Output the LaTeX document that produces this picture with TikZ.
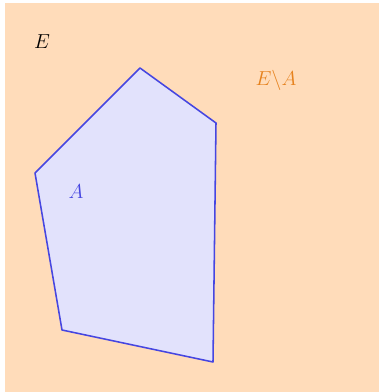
\documentclass[tikz,border=0pt]{standalone}
\usepackage{amsmath}
\usepackage{tikz}

\definecolor{peach}{RGB}{255,220,186}
\definecolor{lavender}{RGB}{226,226,252}
\definecolor{edgeblue}{RGB}{70,70,225}
\definecolor{labelorange}{RGB}{230,130,30}

\begin{document}
\begin{tikzpicture}[font=\Large,
    setlabel/.style={inner sep=1pt}]
        \useasboundingbox (0,0) rectangle (9.525,9.8);
        % Ground set E
        \fill[peach] (0.125,0) rectangle (9.475,9.725);
        \node[setlabel] (labE) at (1.05,8.75) {$E$};

        % Subset A
        \coordinate (p1) at (3.5,8.1);
        \coordinate (p2) at (5.4,6.725);
        \coordinate (p3) at (5.325,0.75);
        \coordinate (p4) at (1.55,1.55);
        \coordinate (p5) at (0.875,5.475);
        \filldraw[fill=lavender, draw=edgeblue, line width=1.1pt, line join=round]
            (p1) -- (p2) -- (p3) -- (p4) -- (p5) -- cycle;
        \node[setlabel, text=edgeblue] (labA) at (1.9,5.0) {$A$};

        % Complement
        \node[setlabel, text=labelorange] (labC) at (6.9,7.78) {$E\backslash A$};
    \end{tikzpicture}
\end{document}
